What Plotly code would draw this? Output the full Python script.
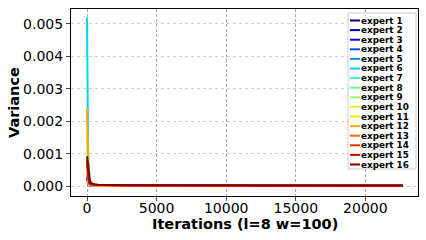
import plotly.graph_objects as go

iterations = [0, 50, 100, 150, 200, 300, 500, 800, 1200, 2000, 3000, 5000, 8000, 12000, 16000, 20000, 22700]

expert_names = ["expert %d" % i for i in range(1, 17)]

# variance per expert
variance = [
    [0.00040, 0.00012, 0.00006, 0.00004, 0.00003, 0.00002, 0.000015, 0.000012, 0.00001, 0.00001, 0.000009, 0.000008, 0.000008, 0.000007, 0.000007, 0.000007, 0.000007],
    [0.00035, 0.00010, 0.00005, 0.00004, 0.00003, 0.00002, 0.000015, 0.000012, 0.00001, 0.00001, 0.000009, 0.000008, 0.000008, 0.000007, 0.000007, 0.000007, 0.000007],
    [0.00030, 0.00008, 0.00004, 0.00003, 0.00002, 0.000015, 0.000012, 0.00001, 0.00001, 0.000009, 0.000008, 0.000008, 0.000007, 0.000007, 0.000007, 0.000006, 0.000006],
    [0.00045, 0.00012, 0.00006, 0.00004, 0.00003, 0.00002, 0.000015, 0.000012, 0.00001, 0.00001, 0.000009, 0.000008, 0.000008, 0.000007, 0.000007, 0.000007, 0.000007],
    [0.00050, 0.00015, 0.00007, 0.00005, 0.00004, 0.00003, 0.00002, 0.000015, 0.000012, 0.00001, 0.00001, 0.000009, 0.000008, 0.000008, 0.000008, 0.000007, 0.000007],
    [0.00520, 0.00030, 0.00008, 0.00005, 0.00004, 0.00003, 0.00002, 0.000015, 0.000012, 0.00001, 0.00001, 0.000009, 0.000008, 0.000008, 0.000008, 0.000007, 0.000007],
    [0.00060, 0.00020, 0.00008, 0.00005, 0.00004, 0.00003, 0.00002, 0.000015, 0.000012, 0.00001, 0.00001, 0.000009, 0.000008, 0.000008, 0.000008, 0.000007, 0.000007],
    [0.00060, 0.00080, 0.00100, 0.00050, 0.00012, 0.00005, 0.00003, 0.00002, 0.000015, 0.000012, 0.00001, 0.00001, 0.000009, 0.000008, 0.000008, 0.000008, 0.000008],
    [0.00050, 0.00020, 0.00008, 0.00005, 0.00004, 0.00003, 0.00002, 0.000015, 0.000012, 0.00001, 0.00001, 0.000009, 0.000008, 0.000008, 0.000008, 0.000007, 0.000007],
    [0.00160, 0.00040, 0.00010, 0.00007, 0.00005, 0.00003, 0.00002, 0.000015, 0.000012, 0.00001, 0.00001, 0.000009, 0.000008, 0.000008, 0.000008, 0.000007, 0.000007],
    [0.00070, 0.00020, 0.00008, 0.00005, 0.00004, 0.00003, 0.00002, 0.000015, 0.000012, 0.00001, 0.00001, 0.000009, 0.000008, 0.000008, 0.000008, 0.000007, 0.000007],
    [0.00240, 0.00050, 0.00012, 0.00008, 0.00005, 0.00003, 0.00002, 0.000015, 0.000012, 0.00001, 0.00001, 0.000009, 0.000008, 0.000008, 0.000008, 0.000007, 0.000007],
    [0.00080, 0.00030, 0.00010, 0.00007, 0.00005, 0.00004, 0.00003, 0.000025, 0.000022, 0.00002, 0.000018, 0.000016, 0.000015, 0.000014, 0.000013, 0.000012, 0.000012],
    [0.00070, 0.00040, 0.00015, 0.00010, 0.00008, 0.00006, 0.00005, 0.00004, 0.000035, 0.00003, 0.000028, 0.000026, 0.000024, 0.000022, 0.00002, 0.00002, 0.00002],
    [0.00080, 0.00050, 0.00030, 0.00015, 0.00010, 0.00007, 0.00005, 0.00004, 0.000035, 0.00003, 0.000028, 0.000026, 0.000024, 0.000022, 0.00002, 0.00002, 0.00002],
    [0.00092, 0.00080, 0.00060, 0.00040, 0.00020, 0.00010, 0.00006, 0.00005, 0.00004, 0.000035, 0.00003, 0.000028, 0.000026, 0.000024, 0.000022, 0.00002, 0.00002],
]

# jet colormap, 16 steps
colors = ["#000080", "#0000cd", "#0008ff", "#004cff", "#0090ff", "#00d4ff", "#29ffce", "#60ff97",
          "#97ff60", "#ceff29", "#ffe600", "#ffa700", "#ff6800", "#ff2900", "#cd0000", "#800000"]

W, H = 426, 240
# plot box in window pixels
PL, PR, PT, PB = 71, 418, 9, 196
pw, ph = PR - PL, PB - PT


def px_x(x):
    return (x - PL) / pw


def px_y(y):
    return 1 - (y - PT) / ph


fig = go.Figure()
for name, ys, c in zip(expert_names, variance, colors):
    fig.add_trace(go.Scatter(x=iterations, y=ys, mode="lines", name=name,
                             line=dict(color=c, width=2)))

# compact legend built by hand (plotly's own rows are too tall here)
shapes = [dict(type="rect", xref="paper", yref="paper", x0=px_x(348), x1=px_x(416),
               y0=px_y(169), y1=px_y(13), fillcolor="rgba(255,255,255,0.85)",
               line=dict(color="#cccccc", width=1), layer="above")]
annotations = []
for i, (name, c) in enumerate(zip(expert_names, colors)):
    yy = 20.5 + i * 9.6
    shapes.append(dict(type="line", xref="paper", yref="paper", x0=px_x(350), x1=px_x(360),
                       y0=px_y(yy), y1=px_y(yy), line=dict(color=c, width=2), layer="above"))
    annotations.append(dict(text="<b>%s</b>" % name, xref="paper", yref="paper",
                            x=px_x(359), y=px_y(yy), xanchor="left", yanchor="middle",
                            showarrow=False, font=dict(family="DejaVu Sans", size=8.8, color="black")))

axis_font = dict(family="DejaVu Sans", size=14, color="black")
title_font = dict(family="DejaVu Sans", size=14.5, color="black")
annotations.append(dict(text="<b>Iterations (l=8 w=100)</b>", xref="paper", yref="paper",
                        x=px_x(245), y=px_y(224), xanchor="center", yanchor="middle",
                        showarrow=False, font=title_font))
annotations.append(dict(text="<b>Variance</b>", xref="paper", yref="paper",
                        x=px_x(14), y=px_y(103), xanchor="center", yanchor="middle",
                        textangle=-90, showarrow=False, font=title_font))

fig.update_layout(
    width=W, height=H,
    margin=dict(l=PL, r=W - PR, t=PT, b=H - PB),
    paper_bgcolor="white", plot_bgcolor="white",
    font=dict(family="DejaVu Sans", color="black"),
    showlegend=False,
    shapes=shapes, annotations=annotations,
    xaxis=dict(range=[-1150, 23780], tickvals=[0, 5000, 10000, 15000, 20000],
               ticktext=["0", "5000", "10000", "15000", "20000"], tickfont=axis_font,
               showline=True, linecolor="black", mirror=True, ticks="outside", ticklen=4,
               ticklabelstandoff=-5,
               showgrid=True, gridcolor="#a8a8a8", griddash="3px,2px", gridwidth=0.8, zeroline=False,
               automargin=False),
    yaxis=dict(range=[-0.0003, 0.00546], tickvals=[0, 0.001, 0.002, 0.003, 0.004, 0.005],
               ticktext=["0.000", "0.001", "0.002", "0.003", "0.004", "0.005"], tickfont=axis_font,
               showline=True, linecolor="black", mirror=True, ticks="outside", ticklen=4,
               showgrid=True, gridcolor="#cfcfcf", griddash="dot", gridwidth=0.8, zeroline=False,
               automargin=False),
)

# drop the page's default body margin so the figure fills the window
fig.write_html("out.html", config={"displayModeBar": False},
               post_script="document.body.style.margin='0';")
